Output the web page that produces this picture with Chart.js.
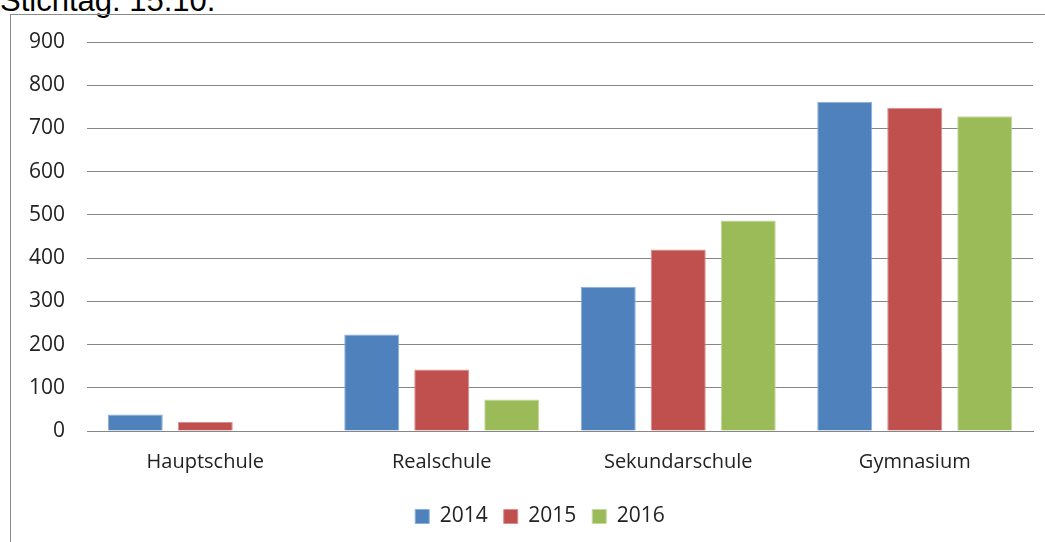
<!DOCTYPE html>
<html>
<head>
<meta charset="utf-8">
<script src="https://cdn.jsdelivr.net/npm/chart.js@4"></script>
<style>
  html, body { margin: 0; padding: 0; background: #fff; overflow: hidden; }
  #wrap { position: relative; width: 1045px; height: 542px; }
  #title { position: absolute; left: 0px; top: -17px; font: 31px "Liberation Sans", Arial, sans-serif; color: #000; white-space: nowrap; }
  #frame { position: absolute; left: 10px; top: 14px; width: 1040px; height: 540px; border: 1px solid #8a8a8a; box-sizing: border-box; }
  #c { position: absolute; left: 0; top: 0; }
</style>
</head>
<body>
<div id="wrap">
  <div id="title">Stichtag: 15.10.</div>
  <div id="frame"></div>
  <canvas id="c" width="1045" height="542"></canvas>
</div>
<script>
const categories = ["Hauptschule", "Realschule", "Sekundarschule", "Gymnasium"];
const seriesNames = ["2014", "2015", "2016"];
const values2014 = [38, 223, 334, 762];
const values2015 = [21, 142, 420, 748];
const values2016 = [0, 73, 487, 728];
const yTicks = [0, 100, 200, 300, 400, 500, 600, 700, 800, 900];

const colors = ["#4F81BD", "#C0504D", "#9BBB59"];
const borders = ["#8EAEDA", "#DA8E8C", "#C3D99D"];
const seriesValues = [values2014, values2015, values2016];

const sans = "'Open Sans', Lato, sans-serif";

const shiftLegend = {
  id: 'shiftLegend',
  afterLayout(chart) {
    const lg = chart.legend;
    if (lg) { lg.left = 47; }
  }
};

new Chart(document.getElementById('c'), {
  type: 'bar',
  data: {
    labels: categories,
    datasets: seriesNames.map((n, i) => ({
      label: n,
      data: seriesValues[i],
      backgroundColor: colors[i],
      borderColor: borders[i],
      borderWidth: 1,
      categoryPercentage: 0.888,
      barPercentage: 0.786
    }))
  },
  options: {
    responsive: false,
    animation: false,
    devicePixelRatio: 1,
    layout: { padding: { left: 0, right: 12, top: 42, bottom: 5 } },
    plugins: {
      tooltip: { enabled: false },
      legend: {
        position: 'bottom',
        labels: {
          boxWidth: 14, boxHeight: 14, padding: 16,
          color: '#222',
          font: { family: sans, size: 21 }
        }
      }
    },
    scales: {
      x: {
        grid: { display: false, drawTicks: false },
        border: { display: true, color: '#868686', width: 1 },
        ticks: { color: '#222', font: { family: sans, size: 20 }, padding: 19 },
        afterFit: (s) => { s.height = 59; }
      },
      y: {
        min: 0, max: 900,
        afterBuildTicks: (s) => { s.ticks = yTicks.map(v => ({ value: v })); },
        grid: { color: '#868686', lineWidth: 1, drawTicks: false },
        border: { display: false },
        ticks: { color: '#222', font: { family: sans, size: 21 }, padding: 22 },
        afterFit: (s) => { s.width = 87; }
      }
    }
  },
  plugins: [shiftLegend]
});
</script>
</body>
</html>
